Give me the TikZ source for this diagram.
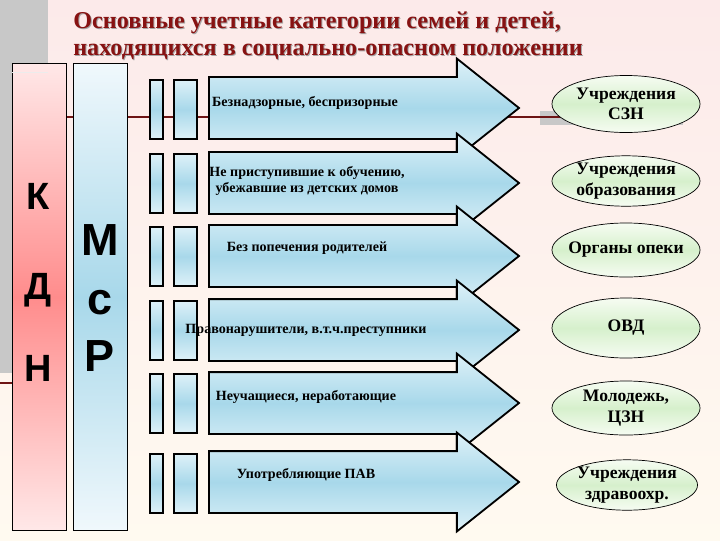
\documentclass[tikz,border=0pt]{standalone}
\usepackage{fontspec}
\setmainfont{Liberation Serif}
\newfontfamily\lettersf{Liberation Sans}
\usetikzlibrary{shapes.geometric, shapes.arrows}

\definecolor{titlered}{RGB}{135,18,18}
\definecolor{linered}{RGB}{110,20,20}
\definecolor{bgpink}{RGB}{252,234,234}
\definecolor{bgcream}{RGB}{255,250,240}
\definecolor{stripgray}{RGB}{200,200,200}
\definecolor{kdnlight}{RGB}{255,232,232}
\definecolor{kdnred}{RGB}{255,140,140}
\definecolor{msrlight}{RGB}{240,248,252}
\definecolor{msrblue}{RGB}{168,216,234}
\definecolor{barlight}{RGB}{222,241,248}
\definecolor{barblue}{RGB}{168,216,234}
\definecolor{aglight}{RGB}{246,252,242}
\definecolor{aggreen}{RGB}{214,240,204}

\begin{document}
\begin{tikzpicture}[x=0.025cm, y=-0.025cm,
    column/.style={draw, line width=0.6pt, anchor=north west, inner sep=0pt,
      minimum width=1.35cm, minimum height=11.675cm},
    bigletter/.style={inner sep=0pt, font=\lettersf\bfseries\fontsize{#1}{#1}\selectfont},
    bar/.style={draw, line width=1.3pt, anchor=north west, inner sep=0pt,
      minimum height=1.475cm, minimum width=#1,
      top color=barlight, bottom color=barlight, middle color=barblue},
    catarrow/.style={single arrow, draw, line width=1.3pt, anchor=tail,
      inner xsep=0pt, inner ysep=0.75cm, minimum height=7.75cm,
      single arrow head extend=0.4625cm, single arrow tip angle=77,
      top color=barlight, bottom color=barlight, middle color=barblue},
    cat/.style={inner sep=0pt, align=center, font=\bfseries\fontsize{10}{12}\selectfont},
    agency/.style={ellipse, draw, line width=0.5pt, inner sep=0pt, align=center,
      minimum width=3.7cm, minimum height=1.35cm,
      top color=aglight, bottom color=aglight, middle color=aggreen,
      font=\bfseries\fontsize{12.5}{14.5}\selectfont},
    heading/.style={anchor=base west, inner sep=0pt, align=left,
      font=\bfseries\fontsize{17.2}{19.2}\selectfont}]
  \useasboundingbox (0,0) rectangle (720,540);
  % slide background
  \fill[top color=bgpink, bottom color=bgcream] (0,0) rectangle (720,540);
  \fill[stripgray] (0,0) rectangle (48,373);
  \draw[linered, line width=1.5pt] (0,383) -- (12,383);
  \fill[stripgray] (540,111) rectangle (683,125);
  \draw[linered, line width=1.5pt] (60,117) -- (562,117);

  % title
  \node[heading, text=black!35] (shadow) at (74,56)
    {Основные учетные категории  семей и детей,\\находящихся в социально-опасном положении};
  \node[heading, text=titlered] (title) at (73,55)
    {Основные учетные категории  семей и детей,\\находящихся в социально-опасном положении};

  % columns
  \node[column, top color=kdnlight, bottom color=kdnlight, middle color=kdnred] (kdn) at (12,63) {};
  \draw[white!85!gray, line width=0.6pt] (12,72) -- (48,72);
  \node[column, top color=msrlight, bottom color=msrlight, middle color=msrblue] (msr) at (73,63) {};
  \node[bigletter=27] (kK) at (38,196) {К};
  \node[bigletter=27] (kD) at (38,290) {Д};
  \node[bigletter=27] (kN) at (38,368) {Н};
  \node[bigletter=32] (mM) at (100,240) {М};
  \node[bigletter=32] (mS) at (100,303) {с};
  \node[bigletter=32] (mR) at (100,356) {Р};

  % bars and arrows
  \foreach \i/\t in {1/79, 2/153, 3/226, 4/300, 5/373, 6/453} {
    \node[bar=0.325cm] (na\i) at (149,\t) {};
    \node[bar=0.575cm] (wa\i) at (173,\t) {};
  }
  \foreach \i/\m in {1/108, 2/183, 3/256, 4/330, 5/403, 6/482}
    \node[catarrow] (cat\i) at (208,\m) {};

  % categories
  \node[cat] (t1) at (305,103) {Безнадзорные, беспризорные};
  \node[cat] (t2) at (307,181) {Не приступившие к обучению,\\убежавшие из детских домов};
  \node[cat] (t3) at (307,248) {Без попечения родителей};
  \node[cat] (t4) at (306,330) {Правонарушители, в.т.ч.преступники};
  \node[cat] (t5) at (306,397) {Неучащиеся,  неработающие};
  \node[cat] (t6) at (306,475) {Употребляющие ПАВ};

  % agencies
  \node[agency, minimum height=1.425cm] (szn) at (626,104) {Учреждения\\СЗН};
  \node[agency, minimum height=1.2cm] (edu) at (626,181) {Учреждения\\образования};
  \node[agency, inner xsep=-4pt] (opeka) at (626,250) {Органы опеки};
  \node[agency, minimum height=1.5cm] (ovd) at (626,328) {ОВД};
  \node[agency] (czn) at (626,408) {Молодежь,\\ЦЗН};
  \node[agency, minimum width=3.525cm, minimum height=1.25cm] (zdrav) at (627,485) {Учреждения\\здравоохр.};
\end{tikzpicture}
\end{document}
